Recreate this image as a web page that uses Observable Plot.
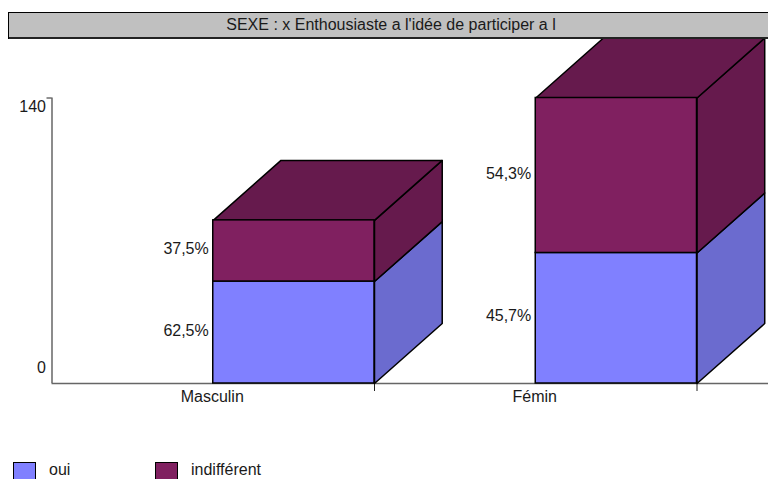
<!DOCTYPE html>
<html>
<head>
<meta charset="utf-8">
<script src="https://cdn.jsdelivr.net/npm/d3@7"></script>
<script src="https://cdn.jsdelivr.net/npm/@observablehq/plot@0.6"></script>
<style>
  html, body { margin: 0; padding: 0; background: #fff; overflow: hidden; width: 768px; height: 479px; }
  body { font-family: "Liberation Sans", Arial, sans-serif; color: #1a1a1a; position: relative; }
  #title { position: absolute; left: 6px; top: 12px; width: 770px; height: 24px; box-sizing: content-box;
    background: #c0c0c0; border-top: 1px solid #000; border-bottom: 2px solid #222;
    text-align: center; font-size: 16px; line-height: 23px; white-space: nowrap; z-index: 2; }
  #title::before { content: ""; position: absolute; left: 2px; top: -1px; bottom: -2px; width: 1px; background: #000; }
  #titleMask { position: absolute; left: 0; top: 10px; width: 8px; height: 30px; background: #fff; z-index: 3; }
  #chart { position: absolute; left: 0; top: 38px; }
  #chart svg { display: block; }
  #legend { position: absolute; top: 0; left: 0; width: 768px; height: 479px; overflow: hidden; font-size: 16px; }
  .sw { position: absolute; top: 462px; width: 21px; height: 20px; border: 1.5px solid #000; }
  .lb { position: absolute; top: 462px; line-height: 16px; }
</style>
</head>
<body>
<div id="chart"></div>
<div id="legend"></div>
<div id="title"></div>
<div id="titleMask"></div>
<script>
const titleText = "SEXE : x Enthousiaste a l'idée de participer a l";
const sexes = ["Masculin", "Fémin"];
const oui = [50, 64];
const indifferent = [30, 76];
const ouiLabels = ["62,5%", "45,7%"];
const indifferentLabels = ["37,5%", "54,3%"];
const seriesNames = ["oui", "indifférent"];
const seriesFront = ["#8080ff", "#802060"];
const seriesSide = ["#6b6bcf", "#661a4d"];
const yTickValues = [0, 140];
const groupEnds = [1, 2];

// oblique projection depth of the boxes, in data units
const depthX = 0.21;
const depthY = 29.4;
const barWidth = 0.5;

const fronts = [], sides = [], tops = [], labels = [];
sexes.forEach((sex, i) => {
  const x2 = groupEnds[i], x1 = x2 - barWidth;
  [[oui, ouiLabels, 0], [indifferent, indifferentLabels, 1]].forEach(([vals, labs, s]) => {
    const y1 = s === 0 ? 0 : oui[i];
    const y2 = y1 + vals[i];
    fronts.push({x1, x2, y1, y2, s});
    labels.push({x: x1, y: (y1 + y2) / 2, text: labs[i]});
    const id = sex + s;
    [[x2, y1], [x2 + depthX, y1 + depthY], [x2 + depthX, y2 + depthY], [x2, y2], [x2, y1]]
      .forEach(([x, y]) => sides.push({id, x, y, s}));
  });
  const top = oui[i] + indifferent[i];
  [[x1, top], [x1 + depthX, top + depthY], [x2 + depthX, top + depthY], [x2, top], [x1, top]]
    .forEach(([x, y]) => tops.push({id: sex, x, y}));
});

const edge = {stroke: "#000", strokeWidth: 1.5};
const plot = Plot.plot({
  width: 768,
  height: 400,
  marginLeft: 51.5,
  marginRight: 0,
  marginTop: 59.5,
  marginBottom: 55,
  style: {fontFamily: "'Liberation Sans', Arial, sans-serif", fontSize: "16px", background: "transparent", color: "#1a1a1a"},
  x: {domain: [0, 2.2217], axis: null},
  y: {domain: [0, 140], axis: null},
  marks: [
    Plot.ruleY([0], {stroke: "#666", strokeWidth: 1.5}),
    Plot.ruleX([0], {y1: 0, y2: 140, stroke: "#666", strokeWidth: 1.5}),
    Plot.axisY({ticks: [140], tickSize: 5, tickFormat: () => "", stroke: "#222"}),
    Plot.axisX({ticks: groupEnds, tickSize: 8, tickFormat: () => "", stroke: "#222"}),
    Plot.line(sides.filter(d => d.s === 0), {x: "x", y: "y", z: "id", fill: seriesSide[0], ...edge}),
    Plot.line(sides.filter(d => d.s === 1), {x: "x", y: "y", z: "id", fill: seriesSide[1], ...edge}),
    Plot.line(tops, {x: "x", y: "y", z: "id", fill: seriesSide[1], ...edge}),
    Plot.rect(fronts.filter(d => d.s === 0), {x1: "x1", x2: "x2", y1: "y1", y2: "y2", fill: seriesFront[0], ...edge}),
    Plot.rect(fronts.filter(d => d.s === 1), {x1: "x1", x2: "x2", y1: "y1", y2: "y2", fill: seriesFront[1], ...edge}),
    Plot.text(labels, {x: "x", y: "y", text: "text", textAnchor: "end", dx: -4.5, dy: -2, fill: "#1a1a1a"}),
    Plot.text(sexes, {x: (d, i) => groupEnds[i] - barWidth, y: 0, text: d => d, dy: 13, dx: -1, fill: "#1a1a1a"}),
    Plot.text([yTickValues[1]], {x: 0, y: d => d, text: d => String(d), textAnchor: "end", dx: -6, dy: 9, fill: "#1a1a1a"}),
    Plot.text([yTickValues[0]], {x: 0, y: d => d, text: d => String(d), textAnchor: "end", dx: -6, dy: -16, fill: "#1a1a1a"})
  ]
});
document.getElementById("chart").appendChild(plot);
document.getElementById("title").textContent = titleText;

const legendX = [[13, 49], [155, 191]];
const legend = document.getElementById("legend");
seriesNames.forEach((name, i) => {
  const sw = document.createElement("div");
  sw.className = "sw"; sw.style.left = legendX[i][0] + "px"; sw.style.background = seriesFront[i];
  const lb = document.createElement("div");
  lb.className = "lb"; lb.style.left = legendX[i][1] + "px"; lb.textContent = name;
  legend.append(sw, lb);
});
</script>
</body>
</html>
